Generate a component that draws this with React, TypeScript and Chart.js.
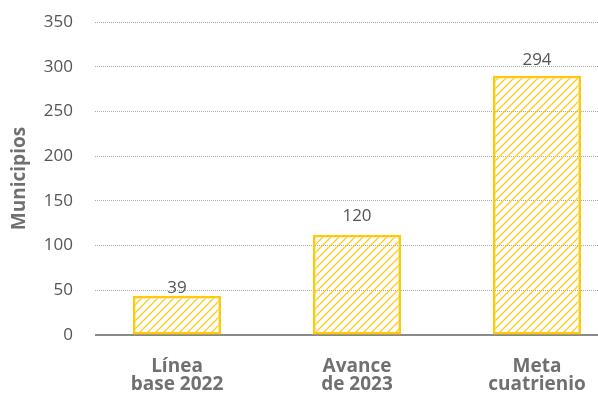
import React, { useEffect, useRef } from "react";
import { Chart, registerables } from "chart.js";

Chart.register(...registerables);

const categories: string[][] = [["Línea", "base 2022"], ["Avance", "de 2023"], ["Meta", "cuatrienio"]];
const barValues: number[] = [44, 112, 290];
const labelValues: number[] = [39, 120, 294];
const yTicks: number[] = [0, 50, 100, 150, 200, 250, 300, 350];

const FONT = "'Open Sans', sans-serif";

function makePattern(): CanvasPattern | string {
  const c = document.createElement("canvas");
  const s = 8;
  c.width = s;
  c.height = s;
  const g = c.getContext("2d");
  if (!g) return "#FFE680";
  g.strokeStyle = "#FFCC22";
  g.lineWidth = 1.3;
  g.beginPath();
  g.moveTo(0, s);
  g.lineTo(s, 0);
  g.moveTo(-s / 2, s / 2);
  g.lineTo(s / 2, -s / 2);
  g.moveTo(s / 2, s * 1.5);
  g.lineTo(s * 1.5, s / 2);
  g.stroke();
  const p = g.createPattern(c, "repeat");
  return p || "#FFE680";
}

const valueLabels = {
  id: "valueLabels",
  beforeDatasetsDraw(chart: any) {
    const ctx = chart.ctx;
    const a = chart.chartArea;
    ctx.save();
    ctx.fillStyle = "#ffffff";
    ctx.fillRect(a.left - 2, a.top - 3, 10, a.bottom - a.top + 6);
    ctx.restore();
  },
  afterDatasetsDraw(chart: any) {
    const ctx = chart.ctx;
    const meta = chart.getDatasetMeta(0);
    const yScale = chart.scales.y;
    ctx.save();
    ctx.font = `17px ${FONT}`;
    ctx.fillStyle = "#555555";
    ctx.textAlign = "center";
    ctx.textBaseline = "middle";
    meta.data.forEach((bar: any, i: number) => {
      const y = yScale.getPixelForValue(labelValues[i]) - 12;
      ctx.fillText(String(labelValues[i]), bar.x, y);
    });
    ctx.restore();
  },
};

export default function App() {
  const ref = useRef<HTMLCanvasElement | null>(null);
  useEffect(() => {
    document.body.style.margin = "0";
    const canvas = ref.current;
    if (!canvas) return;
    const chart = new Chart(canvas, {
      type: "bar",
      data: {
        labels: categories,
        datasets: [
          {
            data: barValues,
            backgroundColor: makePattern() as any,
            borderColor: "#FFC90E",
            borderWidth: 2.5,
            borderSkipped: false,
            barPercentage: 0.49,
            categoryPercentage: 1,
          },
        ],
      },
      options: {
        responsive: false,
        animation: false,
        layout: { padding: { top: 0, bottom: 2, left: 0, right: 13 } },
        plugins: { legend: { display: false }, tooltip: { enabled: false } },
        scales: {
          x: {
            afterFit: (scale: any) => {
              scale.height = 56;
            },
            grid: { display: false, drawTicks: false },
            border: { display: true, color: "#8a8a8a", width: 2 },
            ticks: {
              padding: 23,
              color: "#707070",
              font: { family: FONT, size: 19, weight: "bold", lineHeight: 0.95 },
            },
          },
          y: {
            min: 0,
            max: 350,
            afterFit: (scale: any) => {
              scale.width = 87;
              scale.paddingTop = 22;
            },
            afterBuildTicks: (scale: any) => {
              scale.ticks = yTicks.map((v) => ({ value: v }));
            },
            grid: { color: "#a8a8a8", lineWidth: 1, drawTicks: false },
            border: { display: false, dash: [1, 1] },
            ticks: {
              padding: 14,
              color: "#555555",
              font: { family: FONT, size: 17 },
            },
            title: {
              display: true,
              text: "Municipios",
              color: "#707070",
              padding: { top: 8, bottom: 0 },
              font: { family: FONT, size: 19, weight: "bold" },
            },
          },
        },
      },
      plugins: [valueLabels],
    });
    return () => chart.destroy();
  }, []);
  return (
    <div style={{ position: "fixed", left: 0, top: 0, width: 598, height: 393, overflow: "hidden", background: "#fff" }}>
      <canvas ref={ref} width={640} height={393} style={{ display: "block", width: 640, height: 393 }} />
    </div>
  );
}
